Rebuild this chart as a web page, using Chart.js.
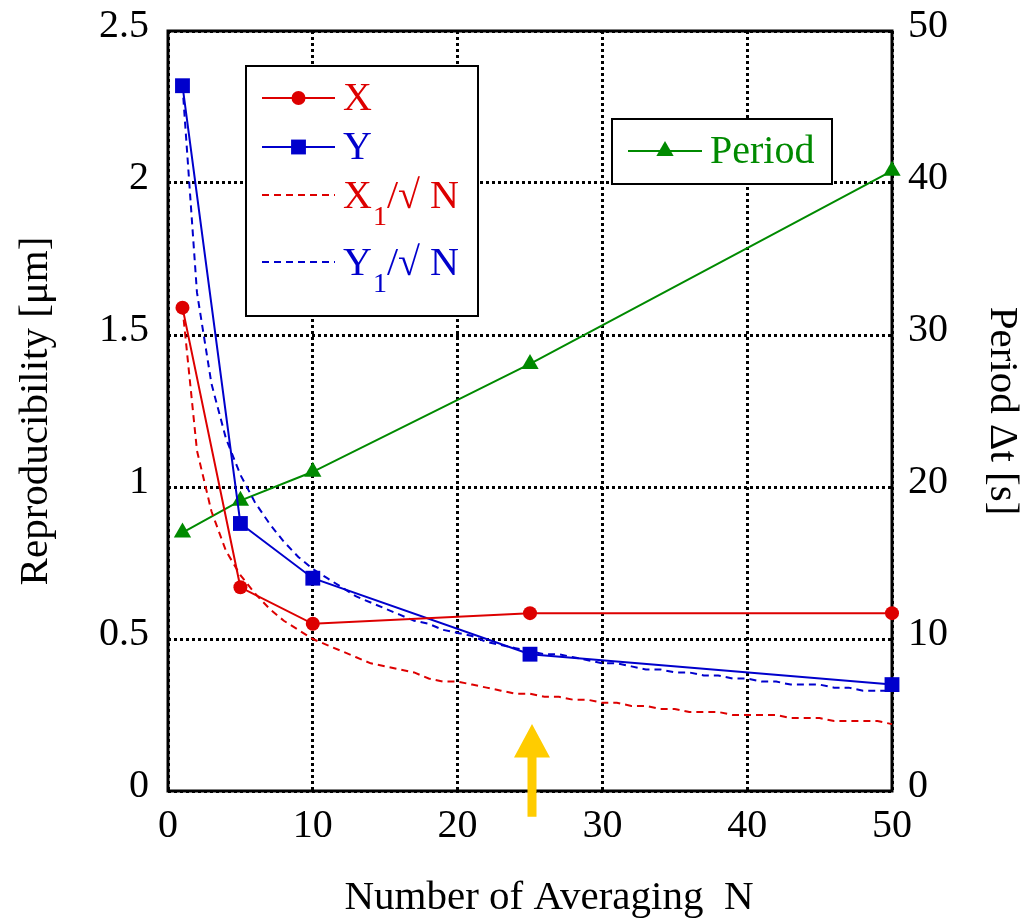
<!DOCTYPE html>
<html>
<head>
<meta charset="utf-8">
<script src="https://cdn.jsdelivr.net/npm/chart.js@4"></script>
<style>
  html, body { margin: 0; padding: 0; background: #fff; }
  #wrap { width: 1026px; height: 922px; }
</style>
</head>
<body>
<div id="wrap"><canvas id="chart" width="1026" height="922"></canvas></div>
<script>
// measured points
const N_POINTS = [1, 5, 10, 25, 50];
const X_REPRO = [1.59, 0.67, 0.55, 0.585, 0.585];
const Y_REPRO = [2.32, 0.88, 0.70, 0.45, 0.35];
const PERIOD = [17.0, 19.1, 21.0, 28.1, 40.8];

// dashed reference curves, one value per N = 1..50
const N_ALL = [1, 2, 3, 4, 5, 6, 7, 8, 9, 10, 11, 12, 13, 14, 15, 16, 17, 18, 19, 20,
  21, 22, 23, 24, 25, 26, 27, 28, 29, 30, 31, 32, 33, 34, 35, 36, 37, 38, 39, 40,
  41, 42, 43, 44, 45, 46, 47, 48, 49, 50];
const X1_SQRT = [1.59, 1.12, 0.92, 0.79, 0.71, 0.65, 0.60, 0.56, 0.53, 0.50,
  0.48, 0.46, 0.44, 0.42, 0.41, 0.40, 0.39, 0.37, 0.36, 0.36,
  0.35, 0.34, 0.33, 0.32, 0.32, 0.31, 0.31, 0.30, 0.30, 0.29,
  0.29, 0.28, 0.28, 0.27, 0.27, 0.26, 0.26, 0.26, 0.25, 0.25,
  0.25, 0.25, 0.24, 0.24, 0.24, 0.23, 0.23, 0.23, 0.23, 0.22];
const Y1_SQRT = [2.32, 1.64, 1.34, 1.16, 1.04, 0.95, 0.88, 0.82, 0.77, 0.73,
  0.70, 0.67, 0.64, 0.62, 0.60, 0.58, 0.56, 0.55, 0.53, 0.52,
  0.51, 0.49, 0.48, 0.47, 0.46, 0.45, 0.45, 0.44, 0.43, 0.42,
  0.42, 0.41, 0.40, 0.40, 0.39, 0.39, 0.38, 0.38, 0.37, 0.37,
  0.36, 0.36, 0.35, 0.35, 0.35, 0.34, 0.34, 0.33, 0.33, 0.33];

const X_TICKS = [0, 10, 20, 30, 40, 50];
const Y_TICKS = [0, 0.5, 1, 1.5, 2, 2.5];
const PERIOD_TICKS = [0, 10, 20, 30, 40, 50];

// arrow marking the chosen N
const ARROW_N = 25;

const RED = '#dd0000';
const BLUE = '#0000cc';
const GREEN = '#008a00';
const FONT = '"Liberation Serif", "Times New Roman", serif';
const DASH = [7, 5];

const pts = (xs, ys) => xs.map((x, i) => ({ x: x, y: ys[i] }));

const frame = {
  id: 'frame',
  beforeDatasetsDraw(chart) {
    const { ctx, chartArea: a } = chart;
    ctx.save();
    ctx.strokeStyle = '#000';
    ctx.lineWidth = 3;
    ctx.strokeRect(a.left, a.top, a.right - a.left, a.bottom - a.top);
    ctx.restore();
  },
  afterDraw(chart) {
    // x axis title, sitting a bit right of the plot centre as in the original
    const ctx = chart.ctx;
    ctx.save();
    ctx.fillStyle = '#000';
    ctx.font = '41px ' + FONT;
    ctx.textAlign = 'center';
    ctx.textBaseline = 'middle';
    ctx.fillText('Number of Averaging  N', 549, 898);
    ctx.restore();
  }
};

const drawSample = (ctx, x0, x1, y, ds) => {
  ctx.save();
  ctx.strokeStyle = ds.borderColor;
  ctx.lineWidth = ds.borderWidth;
  ctx.setLineDash(ds.borderDash || []);
  ctx.beginPath();
  ctx.moveTo(x0, y);
  ctx.lineTo(x1, y);
  ctx.stroke();
  ctx.setLineDash([]);
  const r = ds.pointRadius;
  ctx.fillStyle = ds.pointBackgroundColor;
  const cx = (x0 + x1) / 2;
  if (r > 0) {
    ctx.beginPath();
    if (ds.pointStyle === 'circle') ctx.arc(cx, y, r, 0, Math.PI * 2);
    else if (ds.pointStyle === 'rect') { const s = r * Math.SQRT1_2; ctx.rect(cx - s, y - s, 2 * s, 2 * s); }
    else if (ds.pointStyle === 'triangle') {
      ctx.moveTo(cx, y - r);
      ctx.lineTo(cx + r * 0.866, y + r / 2);
      ctx.lineTo(cx - r * 0.866, y + r / 2);
      ctx.closePath();
    }
    ctx.fill();
  }
  ctx.restore();
};

const drawLabel = (ctx, x, y, color, main, sub, rest) => {
  ctx.save();
  ctx.fillStyle = color;
  ctx.textBaseline = 'alphabetic';
  ctx.textAlign = 'left';
  ctx.font = '40px ' + FONT;
  ctx.fillText(main, x, y);
  let cx = x + ctx.measureText(main).width;
  if (sub) {
    ctx.font = '28px ' + FONT;
    ctx.fillText(sub, cx + 1, y + 17);
    cx += ctx.measureText(sub).width + 1;
    ctx.font = '40px ' + FONT;
    ctx.fillText(rest, cx, y);
  }
  ctx.restore();
};

const legends = {
  id: 'legends',
  afterDatasetsDraw(chart) {
    const ctx = chart.ctx;
    const ds = chart.data.datasets;
    ctx.save();
    ctx.fillStyle = '#fff';
    ctx.strokeStyle = '#000';
    ctx.lineWidth = 2;
    ctx.fillRect(246, 66, 232, 250);
    ctx.strokeRect(246, 66, 232, 250);
    ctx.fillRect(612, 119, 220, 65);
    ctx.strokeRect(612, 119, 220, 65);
    ctx.restore();

    drawSample(ctx, 262, 335, 98, ds[0]);
    drawLabel(ctx, 343, 110, RED, 'X');
    drawSample(ctx, 262, 335, 147, ds[1]);
    drawLabel(ctx, 343, 159, BLUE, 'Y');
    drawSample(ctx, 262, 335, 195, ds[2]);
    drawLabel(ctx, 343, 208, RED, 'X', '1', '/\u221A N');
    drawSample(ctx, 262, 335, 262, ds[3]);
    drawLabel(ctx, 343, 275, BLUE, 'Y', '1', '/\u221A N');

    drawSample(ctx, 628, 702, 151, ds[4]);
    drawLabel(ctx, 710, 163, GREEN, 'Period');

    // yellow arrow
    const xs = chart.scales.x, ys = chart.scales.y;
    const ax = xs.getPixelForValue(ARROW_N) + 2;
    const tip = ys.getPixelForValue(0.22);
    const base = ys.getPixelForValue(0.11);
    const foot = ys.getPixelForValue(-0.085);
    ctx.save();
    ctx.fillStyle = '#ffcc00';
    ctx.beginPath();
    ctx.moveTo(ax, tip);
    ctx.lineTo(ax + 18, base);
    ctx.lineTo(ax + 4.5, base);
    ctx.lineTo(ax + 4.5, foot);
    ctx.lineTo(ax - 4.5, foot);
    ctx.lineTo(ax - 4.5, base);
    ctx.lineTo(ax - 18, base);
    ctx.closePath();
    ctx.fill();
    ctx.restore();
  }
};

const tickFont = { family: FONT, size: 40 };
const titleFont = { family: FONT, size: 41 };
const plain = (v) => String(v);

new Chart(document.getElementById('chart'), {
  type: 'line',
  data: {
    datasets: [
      {
        label: 'X', data: pts(N_POINTS, X_REPRO), yAxisID: 'y',
        borderColor: RED, backgroundColor: RED, borderWidth: 2,
        pointStyle: 'circle', pointRadius: 7, pointBackgroundColor: RED, pointBorderWidth: 0
      },
      {
        label: 'Y', data: pts(N_POINTS, Y_REPRO), yAxisID: 'y',
        borderColor: BLUE, backgroundColor: BLUE, borderWidth: 2,
        pointStyle: 'rect', pointRadius: 10.5, pointBackgroundColor: BLUE, pointBorderWidth: 0
      },
      {
        label: 'X1/√N', data: pts(N_ALL, X1_SQRT), yAxisID: 'y',
        borderColor: RED, backgroundColor: RED, borderWidth: 2, borderDash: DASH,
        pointRadius: 0, pointBackgroundColor: RED
      },
      {
        label: 'Y1/√N', data: pts(N_ALL, Y1_SQRT), yAxisID: 'y',
        borderColor: BLUE, backgroundColor: BLUE, borderWidth: 2, borderDash: DASH,
        pointRadius: 0, pointBackgroundColor: BLUE
      },
      {
        label: 'Period', data: pts(N_POINTS, PERIOD), yAxisID: 'y1',
        borderColor: GREEN, backgroundColor: GREEN, borderWidth: 2,
        pointStyle: 'triangle', pointRadius: 10, pointBackgroundColor: GREEN, pointBorderWidth: 0
      }
    ]
  },
  options: {
    responsive: false,
    animation: false,
    clip: false,
    layout: { padding: { top: 31, left: 0, right: 0, bottom: 0 } },
    plugins: { legend: { display: false }, tooltip: { enabled: false } },
    elements: { line: { tension: 0 } },
    scales: {
      x: {
        type: 'linear', min: 0, max: 50,
        afterBuildTicks: (s) => { s.ticks = X_TICKS.map(v => ({ value: v })); },
        afterFit: (s) => { s.height = 131; },
        ticks: { font: tickFont, color: '#000', padding: 11, callback: plain },
        grid: { color: '#000', lineWidth: 3, drawTicks: false, borderDash: [3, 3] },
        border: { display: false, dash: [3, 3] },
        title: { display: false }
      },
      y: {
        type: 'linear', position: 'left', min: 0, max: 2.5,
        afterBuildTicks: (s) => { s.ticks = Y_TICKS.map(v => ({ value: v })); },
        afterFit: (s) => { s.width = 168; s.paddingTop = 0; s.paddingBottom = 0; },
        ticks: { font: tickFont, color: '#000', padding: 19, labelOffset: -5, callback: plain },
        grid: { color: '#000', lineWidth: 3, drawTicks: false, borderDash: [3, 3] },
        border: { display: false, dash: [3, 3] },
        title: { display: true, text: 'Reproducibility [μm]', font: titleFont, color: '#000', padding: { top: 12, bottom: 0 } }
      },
      y1: {
        type: 'linear', position: 'right', min: 0, max: 50,
        afterBuildTicks: (s) => { s.ticks = PERIOD_TICKS.map(v => ({ value: v })); },
        afterFit: (s) => { s.width = 134; s.paddingTop = 0; s.paddingBottom = 0; },
        ticks: { font: tickFont, color: '#000', padding: 16, labelOffset: -5, callback: plain },
        grid: { drawOnChartArea: false, drawTicks: false },
        border: { display: false },
        title: { display: true, text: 'Period Δt [s]', font: titleFont, color: '#000', padding: { top: 0, bottom: 0 } }
      }
    }
  },
  plugins: [frame, legends]
});
</script>
</body>
</html>
